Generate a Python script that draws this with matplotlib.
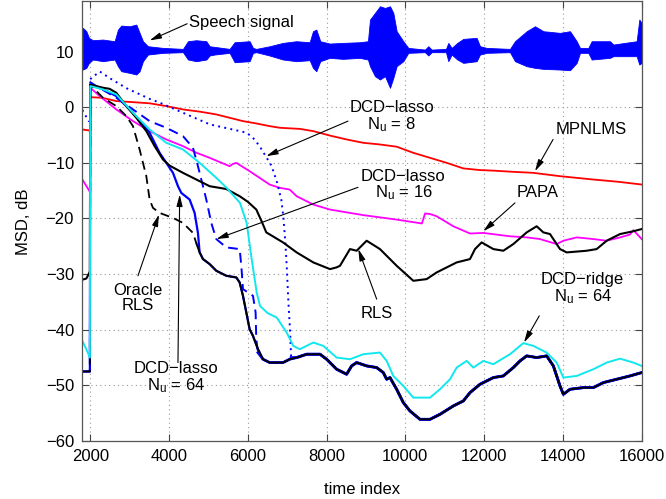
import matplotlib
matplotlib.use("Agg")
import matplotlib.pyplot as plt

plt.rcParams['font.family'] = ['Liberation Sans', 'DejaVu Sans']
plt.rcParams['mathtext.fontset'] = 'custom'
plt.rcParams['mathtext.rm'] = 'Liberation Sans'
plt.rcParams['mathtext.it'] = 'Liberation Sans'

# ---------------- speech waveform envelope (plotted around 10 dB) ----------------
speech_t = [1815, 1900, 1967, 2069, 2322, 2619, 2703, 2788, 2999, 3169, 3253, 3338, 3465,
            3846, 4354, 4481, 4692, 4946, 5031, 5158, 5538, 5665, 6046, 6131, 6215, 6554,
            6893, 7231, 7570, 7655, 7739, 7840, 8079, 8416, 8839, 9050, 9102, 9229, 9356,
            9483, 9610, 9694, 9779, 9948, 10075, 10498, 10583, 10667, 11031, 11091, 11175,
            11319, 11471, 11810, 11894, 12064, 12656, 12783, 13080, 13291, 13503, 13926,
            14180, 14350, 14434, 14645, 14730, 15195, 15280, 15872, 15940, 16000]
speech_hi = [14.25, 13.66, 12.46, 12.04, 12.16, 11.86, 13.95, 14.67, 14.55, 14.85, 13.36,
             11.86, 10.96, 10.66, 10.48, 11.86, 12.04, 11.86, 10.96, 10.84, 10.48, 11.68,
             11.86, 10.66, 10.48, 10.96, 11.56, 11.86, 11.68, 13.66, 13.95, 11.86, 11.44,
             11.56, 11.68, 11.86, 15.75, 16.95, 18.14, 17.84, 18.14, 16.95, 13.66, 11.86,
             10.66, 10.36, 10.96, 10.36, 10.48, 11.56, 10.66, 11.56, 12.28, 12.46, 10.96,
             10.66, 10.48, 11.86, 13.66, 14.55, 13.66, 13.36, 13.66, 11.86, 10.66, 10.66,
             11.86, 11.86, 11.26, 11.86, 15.75, 15.15]
speech_lo = [6.77, 7.07, 7.97, 8.57, 8.27, 8.57, 7.37, 6.47, 6.17, 5.88, 6.47, 8.27, 9.47,
             9.77, 9.89, 8.57, 8.27, 8.57, 9.29, 9.47, 9.77, 8.09, 8.27, 9.77, 9.89, 9.29,
             8.57, 8.27, 8.45, 7.07, 6.47, 8.27, 8.87, 8.69, 8.87, 8.57, 7.37, 5.58, 4.98,
             5.58, 3.48, 5.28, 7.37, 8.27, 9.77, 9.89, 9.29, 9.89, 9.89, 8.27, 9.47, 8.57,
             7.97, 8.27, 9.47, 9.77, 9.89, 8.27, 7.37, 7.07, 6.89, 6.77, 6.65, 7.97, 9.77,
             9.77, 8.57, 8.87, 9.17, 9.17, 7.67, 7.97]

# ---------------- MSD curves, dB ----------------
mpnlms_t = [1800, 1990, 2000, 2300, 2660, 3100, 3507, 3930, 4354, 4780, 5200, 5540, 5877,
            6200, 6554, 6816, 7324, 7663, 8086, 8509, 8932, 9355, 9779, 10202, 10625, 11048,
            11471, 11894, 12233, 12700, 13249, 13926, 14772, 15400, 16000]
mpnlms_v = [-4.0, -4.2, 1.8, 1.7, 1.1, 0.9, 0.7, 0.2, -0.4, -0.8, -1.3, -1.9, -2.5, -2.9,
            -3.4, -3.7, -3.9, -4.3, -5.1, -5.8, -6.4, -6.7, -7.1, -8.2, -9.1, -10.0, -11.0,
            -11.3, -11.4, -11.6, -11.8, -12.4, -13.0, -13.4, -13.9]

papa_t = [1800, 1990, 2000, 2238, 2661, 3084, 3507, 3931, 4354, 4700, 5031, 5300, 5538,
          5620, 5708, 6046, 6554, 6816, 7062, 7240, 7663, 8086, 8932, 9779, 10420, 10500,
          10625, 10794, 11217, 11640, 11980, 12656, 13080, 13418, 13841, 14011, 14350,
          14772, 15111, 15450, 15700, 15788, 16000]
papa_v = [-13.0, -15.2, 3.5, 2.0, -0.4, -2.5, -4.3, -5.8, -7.0, -8.2, -9.1, -9.9, -10.6,
          -10.2, -10.0, -11.5, -13.9, -14.5, -14.8, -16.0, -17.5, -18.4, -19.4, -20.2,
          -20.9, -19.1, -19.2, -19.6, -21.4, -22.7, -22.6, -23.2, -23.4, -23.7, -24.6,
          -24.0, -23.4, -23.7, -24.0, -23.4, -22.9, -22.1, -23.7]

rls_t = [1800, 1900, 1960, 1990, 2000, 2150, 2322, 2492, 2661, 2915, 3169, 3423, 3634, 3846,
         4015, 4354, 4693, 5031, 5454, 5793, 6000, 6216, 6350, 6469, 6893, 7240, 7663, 8086,
         8250, 8340, 8594, 8763, 9017, 9355, 9779, 10202, 10540, 10794, 11302, 11640, 11768,
         11937, 12233, 12487, 12741, 13080, 13334, 13503, 13672, 13926, 14095, 14603, 14857,
         15111, 15450, 15788, 16000]
rls_v = [-31.0, -30.8, -30.0, -29.5, 4.0, 3.8, 3.5, 3.3, 2.6, 0.2, -1.9, -4.3, -7.0, -9.4,
         -10.5, -11.8, -13.0, -14.2, -14.7, -16.0, -17.0, -18.4, -20.5, -22.5, -24.3, -26.1,
         -27.9, -29.1, -28.8, -28.5, -25.5, -25.8, -24.0, -25.5, -28.5, -31.2, -30.9, -29.7,
         -27.9, -27.3, -25.5, -24.3, -25.5, -25.8, -24.6, -22.5, -21.4, -22.5, -22.8, -25.5,
         -26.1, -25.8, -25.5, -24.0, -22.8, -22.3, -21.9]

ridge_t = [1800, 1900, 1990, 2000, 2322, 2661, 3084, 3507, 3931, 4354, 4777, 5200, 5463,
           5801, 5971, 6098, 6225, 6309, 6500, 6733, 6987, 7154, 7320, 7663, 7917, 8255,
           8594, 8932, 9355, 9525, 9694, 9948, 10202, 10625, 10879, 11133, 11302, 11556,
           11725, 11980, 12233, 12656, 12995, 13249, 13587, 13841, 14011, 14350, 14772,
           15111, 15450, 15788, 16000]
ridge_v = [-42.0, -43.5, -45.0, 3.8, 3.2, 2.3, -1.0, -4.0, -6.4, -7.6, -10.0, -12.7, -14.5,
           -17.2, -20.8, -27.3, -33.3, -35.7, -37.0, -37.8, -40.5, -42.9, -43.5, -42.3,
           -42.9, -45.0, -45.3, -44.4, -44.1, -45.6, -48.3, -50.1, -52.2, -52.2, -50.7,
           -48.9, -46.8, -45.6, -46.8, -45.6, -46.2, -44.4, -42.4, -42.9, -44.1, -45.9,
           -48.6, -48.3, -47.1, -45.9, -45.2, -45.9, -46.5]

# common steady-state trajectory reached by the sparse RLS-type filters
floor_t = [4777, 4862, 5031, 5200, 5454, 5708, 5793, 5877, 5962, 6046, 6131, 6258, 6385,
           6554, 6893, 7062, 7240, 7494, 7832, 8001, 8255, 8509, 8636, 8763, 9017, 9271,
           9440, 9525, 9609, 9779, 9948, 10117, 10371, 10625, 10879, 11217, 11471, 11641,
           11895, 12233, 12487, 12741, 12911, 13080, 13334, 13587, 13757, 13926, 14011,
           14180, 14518, 14772, 15026, 15365, 15704, 16000]
floor_v = [-26.1, -27.3, -28.2, -29.4, -30.3, -30.6, -31.5, -33.9, -36.9, -39.9, -41.1,
           -43.5, -45.3, -45.9, -45.9, -45.3, -45.0, -44.4, -44.4, -45.3, -47.1, -48.0,
           -46.5, -45.9, -46.5, -46.8, -47.7, -48.9, -48.6, -50.7, -53.1, -54.6, -56.1,
           -56.1, -55.2, -53.7, -52.8, -51.3, -49.8, -48.6, -48.3, -46.8, -45.6, -44.7,
           -45.0, -44.7, -46.5, -50.1, -51.6, -50.7, -50.4, -50.4, -49.5, -48.9, -48.3, -47.7]

oracle_t = [1800, 1990, 2000, 2153, 2322, 2661, 2915, 3084, 3253, 3423, 3507, 3592, 3761,
            4100, 4354, 4608, 4700]
oracle_v = [-47.5, -47.5, 4.0, 2.9, 1.7, 0.2, -1.6, -3.4, -7.6, -12.4, -16.6, -18.1, -19.0,
            -19.9, -20.8, -22.6, -24.6]

lasso64_t = [1800, 1990, 2000, 2300, 2661, 3084, 3507, 3761, 3931, 4100, 4227, 4311, 4523,
             4650, 4734]
lasso64_v = [-47.5, -47.5, 4.0, 3.3, 2.0, -1.0, -4.6, -8.2, -10.0, -11.8, -14.2, -15.4,
             -16.6, -19.0, -22.6]

lasso16_t = [1800, 1990, 2000, 2153, 2661, 3084, 3507, 3931, 4354, 4608, 4734, 4862, 4946,
             5073, 5200, 5454, 5793, 5835, 5877, 6131, 6198, 6215, 6258]
lasso16_v = [-47.5, -47.5, 4.5, 3.8, 1.7, -0.4, -2.5, -3.7, -5.2, -7.3, -10.6, -14.2, -16.6,
             -20.8, -23.7, -25.2, -25.5, -28.5, -32.7, -33.9, -36.9, -41.7, -44.1]

lasso8_t = [1800, 1960, 1995, 2000, 2035, 2246, 2500, 2924, 3507, 3770, 4354, 5040, 5801,
            5971, 6131, 6300, 6479, 6600, 6733, 6850, 6901, 6950, 6987, 7030, 7071, 7100]
lasso8_v = [-0.5, -2.5, -2.5, 5.0, 5.3, 6.4, 5.2, 3.4, 1.5, 0.8, -1.0, -3.1, -4.3, -4.6,
            -5.5, -7.0, -9.1, -10.5, -13.3, -16.6, -19.6, -24.0, -28.5, -35.0, -40.0, -45.0]


def with_floor(t, v, t_start):
    tt = list(t) + [x for x in floor_t if x >= t_start]
    vv = list(v) + [y for x, y in zip(floor_t, floor_v) if x >= t_start]
    return tt, vv


fig = plt.figure(figsize=(6.66, 4.99), dpi=100)
ax = fig.add_axes([0.1237, 0.1162, 0.8398, 0.8808])
ax.set_axisbelow(True)

BLUE = '#0000ff'
ax.fill_between(speech_t, speech_lo, speech_hi, color=BLUE, lw=0.6, edgecolor=BLUE)

ax.plot(mpnlms_t, mpnlms_v, color='#ff0000', lw=1.3)
ax.plot(papa_t, papa_v, color='#ff00ff', lw=1.3)

t8, v8 = with_floor(lasso8_t, lasso8_v, 7240)
n8 = len(lasso8_t)
ax.plot(t8[:n8], v8[:n8], color=BLUE, lw=1.4, ls=(0, (1, 2.2)))
ax.plot(t8[n8 - 1:], v8[n8 - 1:], color=BLUE, lw=2.0)

t16, v16 = with_floor(lasso16_t, lasso16_v, 6385)
n16 = len(lasso16_t)
ax.plot(t16[:n16], v16[:n16], color=BLUE, lw=1.4, ls=(0, (5, 3)))
ax.plot(t16[n16 - 1:], v16[n16 - 1:], color=BLUE, lw=2.0)

t64, v64 = with_floor(lasso64_t, lasso64_v, 4777)
ax.plot(t64, v64, color=BLUE, lw=1.6)

ax.plot(rls_t, rls_v, color='k', lw=1.5)

to, vo = with_floor(oracle_t, oracle_v, 4777)
n_o = len(oracle_t)
ax.plot(to[:n_o], vo[:n_o], color='k', lw=1.3, ls=(0, (5, 3)))
ax.plot(to[n_o - 1:], vo[n_o - 1:], color='k', lw=1.4)

ax.plot(ridge_t, ridge_v, color='#10e8ee', lw=1.4)

ax.set_xlim(1800, 16000)
ax.set_ylim(-60, 19)
ax.set_xticks(range(2000, 16001, 2000))
ax.set_yticks(range(-60, 11, 10))
ax.tick_params(direction='in', top=True, right=True, labelsize=12, length=5,
               width=0.8, color='#444444', pad=6)
for s in ax.spines.values():
    s.set_color('#555555')
    s.set_linewidth(0.9)
ax.grid(True, ls=(0, (1, 3)), color='#9a9a9a', lw=0.8)

ax.set_xlabel('time index', fontsize=12)
ax.set_ylabel('MSD, dB', fontsize=12)
ax.xaxis.set_label_coords(0.5, -0.093)
ax.yaxis.set_label_coords(-0.092, 0.5)

arrow = dict(arrowstyle='-|>,head_length=0.7,head_width=0.18', color='k', lw=0.8,
             shrinkA=0, shrinkB=0)
FS = 12


def note(text, xy_text, tail, head, ha='center', va='center'):
    ax.text(xy_text[0], xy_text[1], text, fontsize=FS, ha=ha, va=va, linespacing=1.0)
    ax.annotate('', xy=head, xytext=tail, arrowprops=arrow)


note('Speech signal', (4500, 15.2), (4460, 15.0), (3508, 12.0), ha='left')
note('DCD\u2212lasso\nN$_\\mathrm{u}$ = 8', (9650, -1.8), (8543, -2.5), (6469, -8.8))
note('DCD\u2212lasso\nN$_\\mathrm{u}$ = 16', (9952, -14.1), (8797, -14.4), (5200, -23.7))
note('MPNLMS', (14713, -4.0), (13750, -5.8), (13291, -11.5))
note('PAPA', (13355, -15.4), (12783, -17.2), (11978, -22.3))
note('DCD\u2212ridge\nN$_\\mathrm{u}$ = 64', (14500, -32.7), (13400, -37.5), (13012, -42.3))
note('RLS', (9272, -37.0), (9272, -34.5), (8805, -25.5))
note('Oracle\nRLS', (3211, -34.3), (3211, -30.3), (3744, -19.3))
note('DCD\u2212lasso\nN$_\\mathrm{u}$ = 64', (4178, -48.7), (4227, -45.9), (4270, -15.7))

fig.savefig('out.png', dpi=100)
